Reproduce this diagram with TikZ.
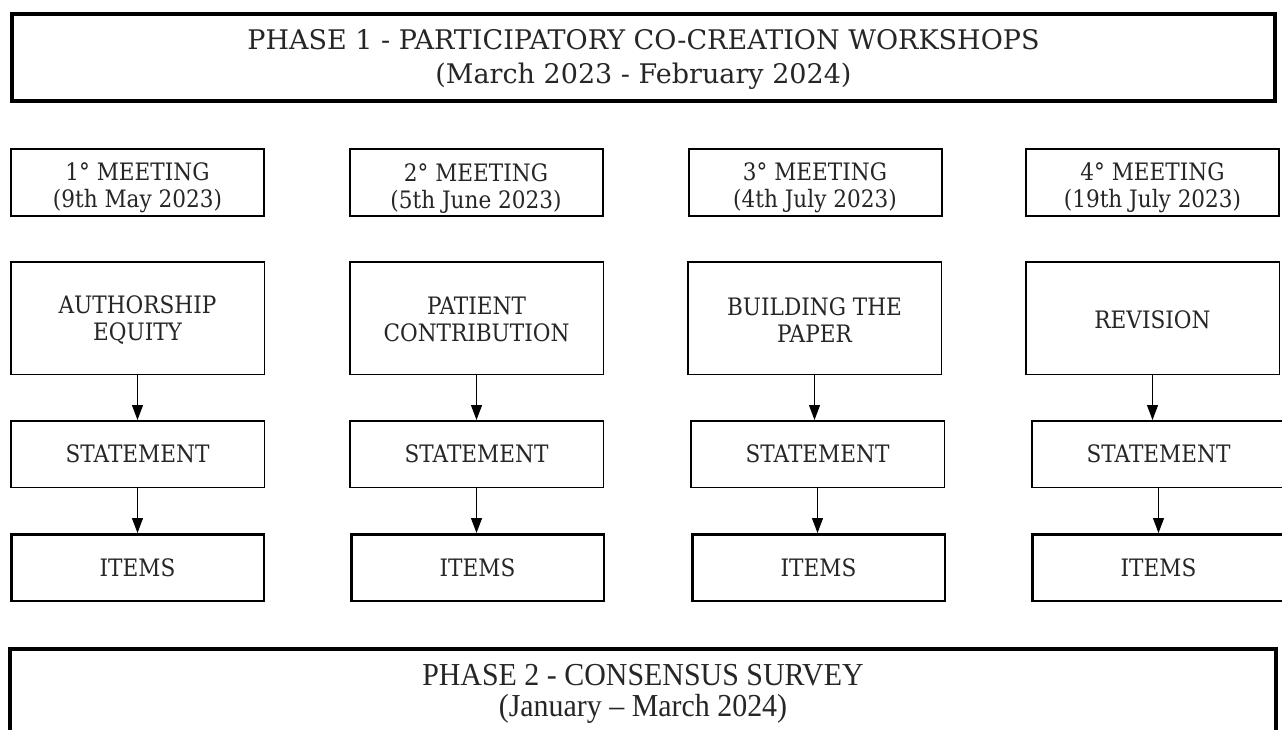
\documentclass[tikz,border=0pt]{standalone}
\usepackage{fontspec}
\setmainfont{DejaVu Serif}
\newfontfamily\boxfont[FakeStretch=0.9]{DejaVu Serif}
\newfontfamily\surveyfont[FakeStretch=0.935]{Liberation Serif}
\usetikzlibrary{arrows.meta}
% an invisible rule that makes a first line taller, lowering the text block
\newcommand\riser[1]{\rule{0pt}{#1}}
\begin{document}
\begin{tikzpicture}[x=1pt,y=-1pt,
  box/.style={draw=black, rectangle, inner sep=0pt, align=center, text=black!85},
  phasebox/.style={box, line width=4pt},
  meetbox/.style={box, line width=2pt, minimum width=253pt, minimum height=67pt,
    font=\boxfont\fontsize{24}{27}\selectfont},
  topicbox/.style={box, line width=1.5pt, minimum width=253.5pt, minimum height=112.5pt,
    font=\boxfont\fontsize{24}{27}\selectfont},
  stmtbox/.style={box, line width=1.5pt, minimum width=253.5pt, minimum height=66.5pt,
    font=\boxfont\fontsize{24}{27}\selectfont},
  itembox/.style={box, line width=2.5pt, minimum width=252.5pt, minimum height=66.5pt,
    font=\boxfont\fontsize{24}{27}\selectfont},
  flow/.style={line width=1.2pt, -{Triangle[length=15pt,width=11pt]}}
]
\useasboundingbox (0,0) rectangle (1282,730);
\fill[white] (0,0) rectangle (1282,730);

% phase 1 header
\node[phasebox, minimum width=1263pt, minimum height=87pt,
  font=\fontsize{27}{34}\selectfont] (p1) at (643.5,57.5)
  {\riser{25pt}PHASE 1 - PARTICIPATORY CO-CREATION WORKSHOPS\\(March 2023 - February 2024)};

% meetings
\node[meetbox] (m1) at (137.5,182.5) {\riser{29pt}1° MEETING\\(9th May 2023)};
\node[meetbox] (m2) at (476,182.5) {\riser{29pt}2° MEETING\\(5th June 2023)};
\node[meetbox] (m3) at (815,182.5) {\riser{29pt}3° MEETING\\(4th July 2023)};
\node[meetbox] (m4) at (1152.5,182.5) {\riser{29pt}4° MEETING\\(19th July 2023)};

% topics
\node[topicbox] (t1) at (137.5,318) {\riser{21pt}AUTHORSHIP\\EQUITY};
\node[topicbox] (t2) at (476.5,318) {\riser{21pt}PATIENT\\CONTRIBUTION};
\node[topicbox] (t3) at (814.5,318) {\riser{21pt}BUILDING THE\\PAPER};
\node[topicbox] (t4) at (1152.5,318) {\riser{21pt}REVISION};

% statements
\node[stmtbox] (s1) at (137.5,454) {STATEMENT};
\node[stmtbox] (s2) at (476.5,454) {STATEMENT};
\node[stmtbox] (s3) at (817.5,454) {STATEMENT};
\node[stmtbox] (s4) at (1158.5,454) {STATEMENT};

% items
\node[itembox] (i1) at (137.5,567.5) {ITEMS};
\node[itembox] (i2) at (477.5,567.5) {ITEMS};
\node[itembox] (i3) at (818.5,567.5) {ITEMS};
\node[itembox] (i4) at (1158.5,567.5) {ITEMS};

% arrows: topic -> statement -> items
\foreach \k in {1,2,3,4}{
  \draw[flow] (t\k.south) -- (t\k.south |- s\k.north);
  \draw[flow] (s\k.south) -- (s\k.south |- i\k.north);
}

% phase 2 footer
\node[phasebox, anchor=north, minimum width=1266pt, minimum height=90pt,
  font=\surveyfont\fontsize{32}{31}\selectfont] (p2) at (643,647)
  {PHASE 2 - CONSENSUS SURVEY\\(January – March 2024)};
\end{tikzpicture}
\end{document}
